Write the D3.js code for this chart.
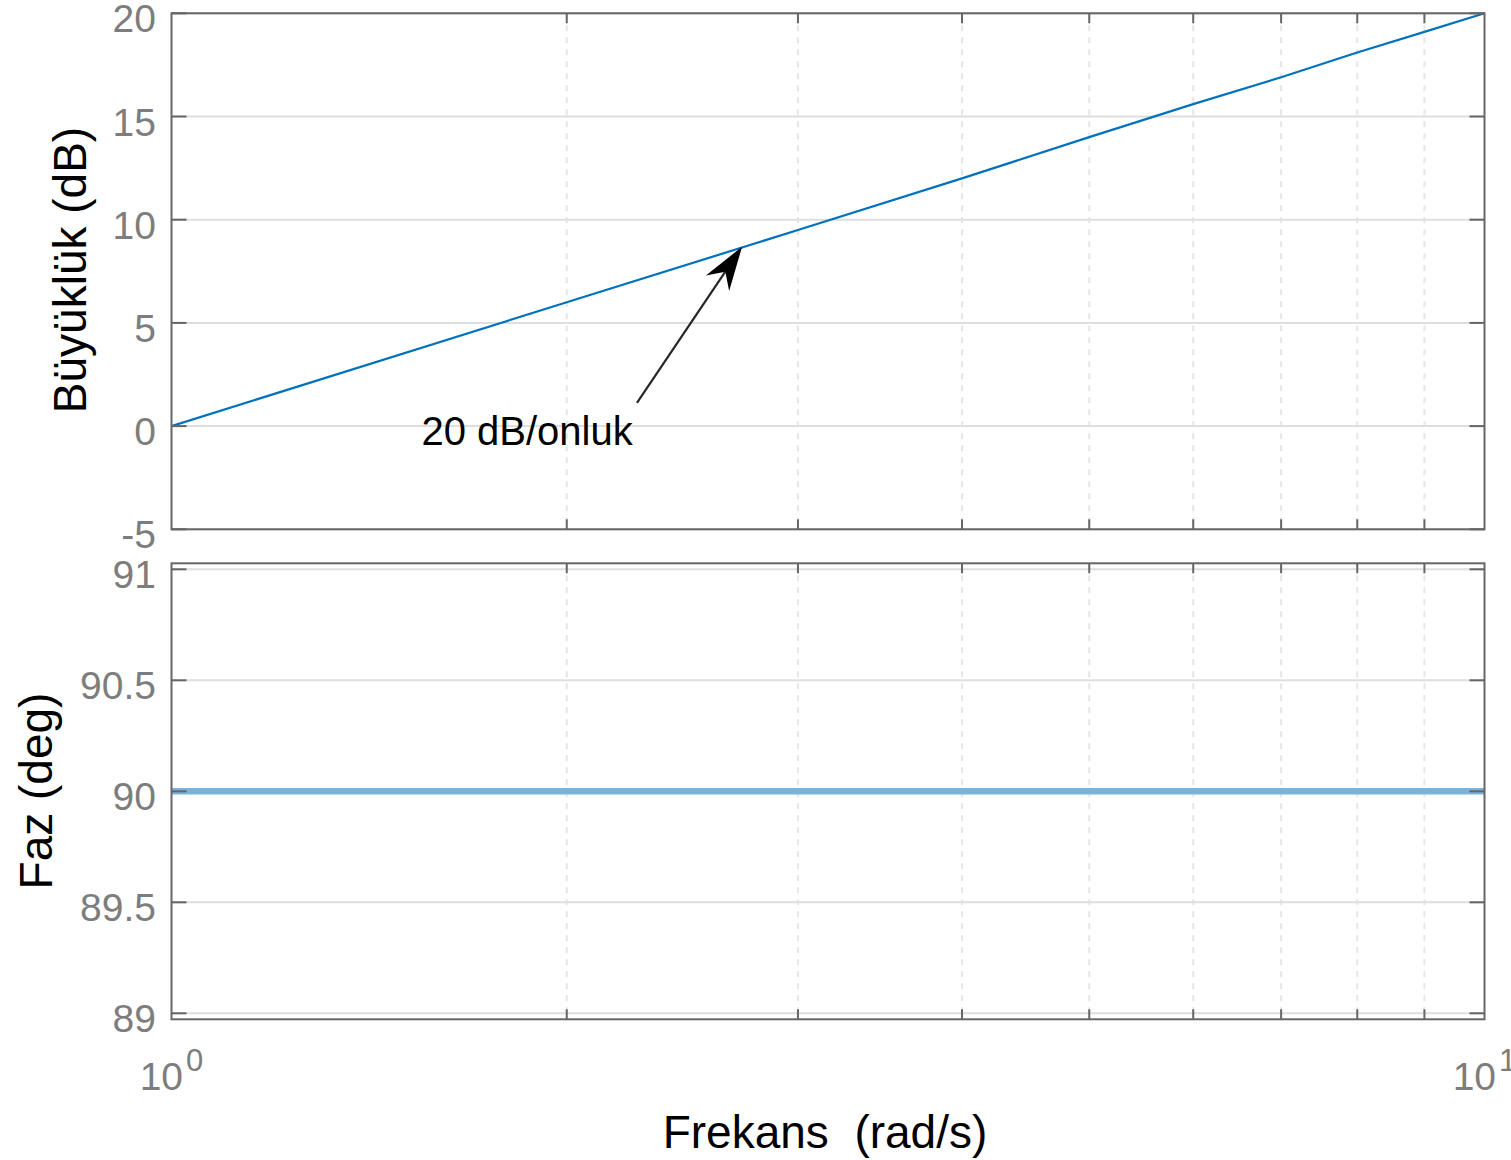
<!DOCTYPE html>
<html>
<head>
<meta charset="utf-8">
<script src="https://cdn.jsdelivr.net/npm/d3@7"></script>
<style>
  html, body { margin: 0; padding: 0; background: #fff; }
  svg { display: block; font-family: "Liberation Sans", Arial, sans-serif; }
</style>
</head>
<body>
<svg id="chart" width="1511" height="1160"></svg>
<script>
// ---- data ----
const frequency = [1, 2, 3, 4, 5, 6, 7, 8, 9, 10];           // rad/s
const magnitudeDb = [0, 6.0, 9.5, 12.0, 14.0, 15.6, 16.9, 18.1, 19.1, 20];
const phaseDeg = [90, 90, 90, 90, 90, 90, 90, 90, 90, 90];

const magTicks = [-5, 0, 5, 10, 15, 20];
const magTickLabels = ["-5", "0", "5", "10", "15", "20"];
const phaseTicks = [89, 89.5, 90, 90.5, 91];
const phaseTickLabels = ["89", "89.5", "90", "90.5", "91"];
const xMajorTicks = [1, 10];
const xMajorExponents = ["0", "1"];
const xMinorTicks = [2, 3, 4, 5, 6, 7, 8, 9];

const magDomain = [-5, 20];
const phaseDomain = [88.973, 91.027];
const freqDomain = [1, 10];

// annotation (data coordinates on the magnitude plot)
const annText = "20 dB/onluk";
const annTextPos = [1.55, -0.92];      // [freq, dB] text start/baseline
const annArrowTail = [2.262, 1.12];
const annArrowHead = [2.72, 8.69];

// ---- layout ----
const svg = d3.select("#chart");
const left = 171.5, right = 1484.5;
const magTop = 13.3, magBottom = 529.3;
const phTop = 563.3, phBottom = 1019.3;

const x = d3.scaleLog().domain(freqDomain).range([left, right]);
const yMag = d3.scaleLinear().domain(magDomain).range([magBottom, magTop]);
const yPh = d3.scaleLinear().domain(phaseDomain).range([phBottom, phTop]);

const axisColor = "#666666";
const tickTextColor = "#7d7d7d";
const gridColor = "#dedede";
const minorGridColor = "#e6e6e6";

function panel(y, top, bottom, ticks, labels, data, lineColor, lineWidth) {
  const g = svg.append("g");
  // minor x grid (dashed)
  g.selectAll(".mg").data(xMinorTicks).enter().append("line")
    .attr("x1", d => x(d)).attr("x2", d => x(d))
    .attr("y1", top).attr("y2", bottom)
    .attr("stroke", minorGridColor).attr("stroke-width", 2)
    .attr("stroke-dasharray", "6,6");
  // y grid
  g.selectAll(".yg").data(ticks).enter().append("line")
    .attr("x1", left).attr("x2", right)
    .attr("y1", d => y(d)).attr("y2", d => y(d))
    .attr("stroke", gridColor).attr("stroke-width", 2);
  // data line
  const line = d3.line().x((d, i) => x(frequency[i])).y(d => y(d));
  g.append("path").datum(data)
    .attr("d", line)
    .attr("fill", "none")
    .attr("stroke", lineColor)
    .attr("stroke-width", lineWidth);
  // ticks: y left/right (inward)
  g.selectAll(".ytl").data(ticks).enter().append("line")
    .attr("x1", left).attr("x2", left + 15)
    .attr("y1", d => y(d)).attr("y2", d => y(d))
    .attr("stroke", axisColor).attr("stroke-width", 2);
  g.selectAll(".ytr").data(ticks).enter().append("line")
    .attr("x1", right - 15).attr("x2", right)
    .attr("y1", d => y(d)).attr("y2", d => y(d))
    .attr("stroke", axisColor).attr("stroke-width", 2);
  // minor x ticks top/bottom (inward)
  g.selectAll(".xtb").data(xMinorTicks).enter().append("line")
    .attr("x1", d => x(d)).attr("x2", d => x(d))
    .attr("y1", bottom).attr("y2", bottom - 10)
    .attr("stroke", axisColor).attr("stroke-width", 2);
  g.selectAll(".xtt").data(xMinorTicks).enter().append("line")
    .attr("x1", d => x(d)).attr("x2", d => x(d))
    .attr("y1", top).attr("y2", top + 10)
    .attr("stroke", axisColor).attr("stroke-width", 2);
  // frame
  g.append("rect")
    .attr("x", left).attr("y", top)
    .attr("width", right - left).attr("height", bottom - top)
    .attr("fill", "none").attr("stroke", axisColor).attr("stroke-width", 2);
  // y tick labels
  g.selectAll(".ylab").data(ticks).enter().append("text")
    .attr("x", 156).attr("y", d => y(d) + 19)
    .attr("text-anchor", "end")
    .attr("font-size", 39)
    .attr("fill", tickTextColor)
    .text((d, i) => labels[i]);
  return g;
}

panel(yMag, magTop, magBottom, magTicks, magTickLabels, magnitudeDb, "#0072BD", 2.2);
panel(yPh, phTop, phBottom, phaseTicks, phaseTickLabels, phaseDeg, "#79b3dc", 6.5);

// x tick labels 10^n
xMajorTicks.forEach((t, i) => {
  const tx = svg.append("text")
    .attr("x", x(t)).attr("y", 1090)
    .attr("text-anchor", "middle")
    .attr("fill", tickTextColor)
    .attr("font-size", 39);
  tx.append("tspan").text("10");
  tx.append("tspan").attr("font-size", 31).attr("dy", -19).attr("dx", 3).text(xMajorExponents[i]);
});

// axis labels
svg.append("text")
  .attr("x", 825).attr("y", 1148)
  .attr("text-anchor", "middle")
  .attr("font-size", 46).attr("fill", "#000")
  .text("Frekans  (rad/s)").attr("xml:space", "preserve").style("white-space", "pre");

svg.append("text")
  .attr("transform", "translate(86,270) rotate(-90)")
  .attr("text-anchor", "middle")
  .attr("font-size", 46).attr("fill", "#000")
  .text("Büyüklük (dB)");

svg.append("text")
  .attr("transform", "translate(52,791) rotate(-90)")
  .attr("text-anchor", "middle")
  .attr("font-size", 46).attr("fill", "#000")
  .text("Faz (deg)");

// annotation
svg.append("text")
  .attr("x", x(annTextPos[0])).attr("y", yMag(annTextPos[1]))
  .attr("font-size", 40).attr("fill", "#000")
  .text(annText);

const tailX = x(annArrowTail[0]), tailY = yMag(annArrowTail[1]);
const headX = x(annArrowHead[0]), headY = yMag(annArrowHead[1]);
const ang = Math.atan2(headY - tailY, headX - tailX);
const len = 44, back = 30, halfW = 14;
const ux = Math.cos(ang), uy = Math.sin(ang);
const px = -uy, py = ux;
const baseX = headX - ux * len, baseY = headY - uy * len;
const notchX = headX - ux * back, notchY = headY - uy * back;
svg.append("line")
  .attr("x1", tailX).attr("y1", tailY)
  .attr("x2", notchX).attr("y2", notchY)
  .attr("stroke", "#262626").attr("stroke-width", 2.2);
svg.append("path")
  .attr("d", `M${headX},${headY} L${baseX + px * halfW},${baseY + py * halfW} L${notchX},${notchY} L${baseX - px * halfW},${baseY - py * halfW} Z`)
  .attr("fill", "#000");
</script>
</body>
</html>
